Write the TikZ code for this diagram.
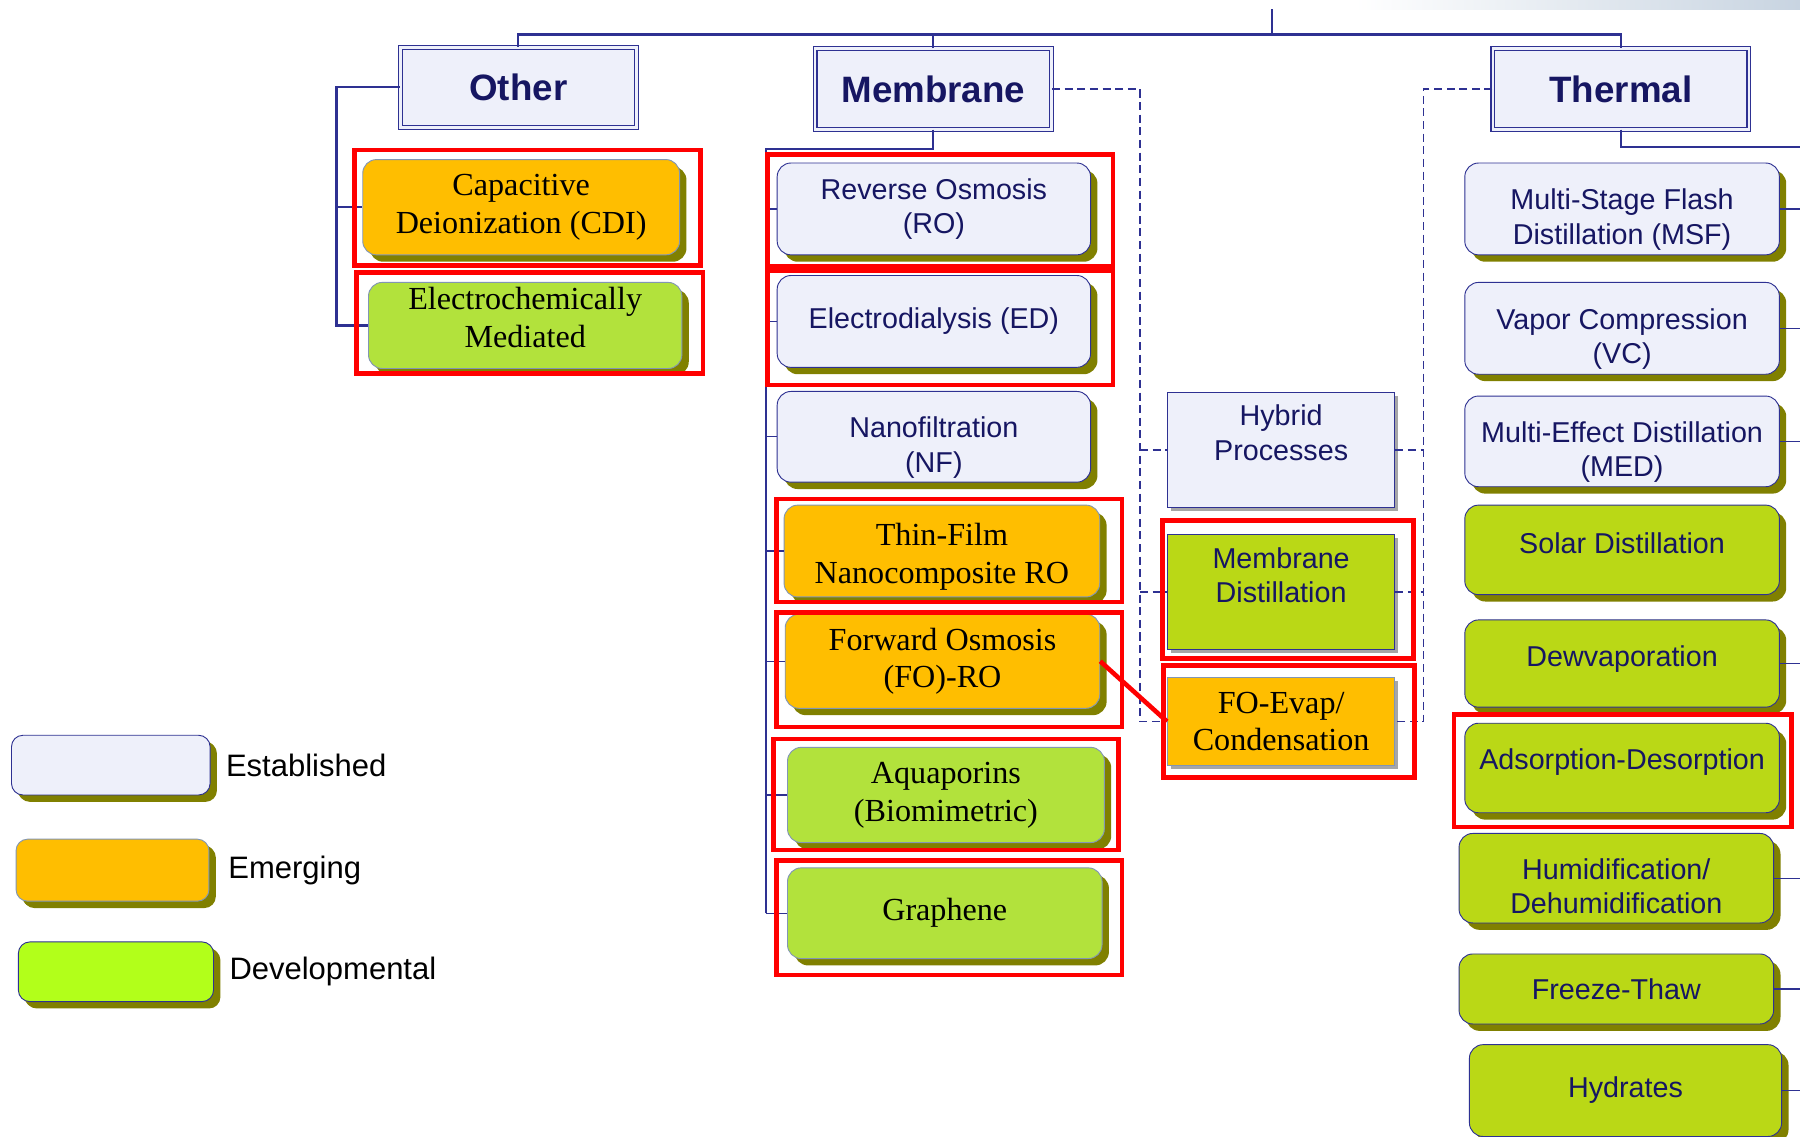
\documentclass[tikz,border=0pt]{standalone}
\usepackage{fontspec}
\setmainfont{Liberation Serif}
\setsansfont{Liberation Sans}
\usepackage{tikz}
\usetikzlibrary{calc,positioning,shadows}
\definecolor{navyline}{RGB}{ 46, 49, 146 }
\definecolor{navytext}{RGB}{ 22, 22, 98 }
\definecolor{estfill}{RGB}{ 238, 240, 250 }
\definecolor{emfill}{RGB}{ 255, 190, 0 }
\definecolor{devfill}{RGB}{ 178, 226, 60 }
\definecolor{thfill}{RGB}{ 186, 216, 22 }
\definecolor{legfill}{RGB}{ 178, 255, 26 }
\definecolor{shadowol}{RGB}{ 128, 128, 0 }
\definecolor{greyedge}{RGB}{ 130, 150, 180 }
\definecolor{hired}{RGB}{ 255, 0, 0 }
\definecolor{fadeblue}{RGB}{ 200, 212, 225 }

\begin{document}
\begin{tikzpicture}[x=1pt,y=-1pt]
\tikzstyle{sans text}=[font=\sffamily\fontsize{25}{30}\selectfont,text=navytext,align=center]
\tikzstyle{serif text}=[font=\rmfamily\fontsize{28}{33}\selectfont,text=black,align=center]
\tikzstyle{head node}=[draw=navyline,double=estfill,double distance=2.5pt,line width=0.9pt,fill=estfill,minimum width=206pt,minimum height=70pt,font=\sffamily\bfseries\fontsize{32}{36}\selectfont,text=navytext]
\tikzstyle{box}=[rounded corners=12pt,minimum width=274pt,minimum height=80pt,inner sep=2pt,line width=0.8pt,drop shadow={shadow xshift=6pt,shadow yshift=-6pt,fill=shadowol,opacity=1}]
\tikzstyle{est}=[box,draw=navyline,fill=estfill,sans text]
\tikzstyle{emg}=[box,draw=greyedge,fill=emfill,serif text]
\tikzstyle{dev}=[box,draw=greyedge,fill=devfill,serif text]
\tikzstyle{thm}=[box,draw=navyline,fill=thfill,sans text]
\tikzstyle{flat}=[minimum width=198pt,line width=0.8pt,drop shadow={shadow xshift=3pt,shadow yshift=-3pt,fill=black!35,opacity=1}]
\tikzstyle{leg}=[box,minimum width=170pt,minimum height=52pt,rounded corners=10pt,drop shadow={shadow xshift=5pt,shadow yshift=-5pt,fill=shadowol,opacity=1}]
\tikzstyle{legtext}=[font=\sffamily\fontsize{27}{30}\selectfont,text=black]
\tikzstyle{conn}=[draw=navyline,line width=2pt]
\tikzstyle{stub}=[draw=navyline,line width=1.1pt]
\tikzstyle{dconn}=[draw=navyline,line width=1.5pt,dash pattern=on 7pt off 4pt]
\tikzstyle{hibox}=[draw=hired,line width=4pt]

\useasboundingbox (0,0) rectangle (1568,990);
\fill[white] (0,0) rectangle (1568,990);
\shade[left color=white,right color=fadeblue] (1180,0) rectangle (1568,8);

% group headings
\node(O)[head node] at (451.5,76) {Other};
\node(M)[head node] at (813,77.5) {Membrane};
\node(T)[head node,minimum width=223pt] at (1412,77.5) {Thermal};

% other
\node(o1)[emg,minimum width=276pt,minimum height=83pt] at (454,180.5) {Capacitive\\Deionization (CDI)};
\node(o2)[dev,minimum width=273pt,minimum height=75pt] at (457.5,283.5) {Electrochemically\\Mediated\rule[-14pt]{0pt}{14pt}};

% membrane
\node(m1)[est,minimum width=273pt] at (813.5,182) {Reverse Osmosis\\(RO)};
\node(m2)[est,minimum width=273pt] at (813.5,280) {Electrodialysis (ED)};
\node(m3)[est,minimum width=273pt,minimum height=79pt] at (813.5,380.5) {\rule{0pt}{37pt}Nanofiltration\\(NF)};
\node(m4)[emg,minimum width=275pt] at (820.5,480) {\rule{0pt}{29pt}Thin-Film\\Nanocomposite RO};
\node(m5)[emg,minimum height=82pt] at (821,576) {Forward Osmosis\\(FO)-RO};
\node(m6)[dev,minimum width=276pt,minimum height=83pt] at (824,692.5) {Aquaporins\\(Biomimetric)};
\node(m7)[dev,minimum height=79pt] at (823,795.5) {Graphene};

% hybrid
\node(h1)[flat,draw=navyline,fill=estfill,sans text,minimum height=100pt,drop shadow={opacity=0}] at (1116,392) {Hybrid\\Processes\\\mbox{}};
\node(h2)[flat,draw=navyline,fill=thfill,sans text,minimum height=100pt] at (1116,516) {Membrane\\Distillation\\\mbox{}};
\node(h3)[flat,draw=greyedge,fill=emfill,serif text,minimum height=77pt] at (1116,628.5) {FO-Evap/\\Condensation};

% thermal
\node(t1)[est] at (1413,182) {\rule{0pt}{37pt}Multi-Stage Flash\\Distillation (MSF)};
\node(t2)[est] at (1413,286) {\rule{0pt}{37pt}Vapor Compression\\(VC)};
\node(t3)[est,minimum height=79pt] at (1413,384.5) {\rule{0pt}{37pt}Multi-Effect Distillation\\(MED)};
\node(t4)[thm,minimum height=78pt] at (1413,479) {Solar Distillation\rule[-12pt]{0pt}{12pt}};
\node(t5)[thm,minimum height=76pt] at (1413,578) {Dewvaporation\rule[-13pt]{0pt}{13pt}};
\node(t6)[thm,minimum height=78pt] at (1413,669) {Adsorption-Desorption\rule[-15pt]{0pt}{15pt}};
\node(t7)[thm,minimum height=78pt] at (1408,765) {\rule{0pt}{32pt}Humidification/\\Dehumidification};
\node(t8)[thm,minimum height=61pt] at (1408,861.5) {Freeze-Thaw};
\node(t9)[thm,minimum width=272pt,minimum height=80pt] at (1416,950) {Hydrates};

% legend
\node(l1)[leg,draw=navyline,fill=estfill,minimum width=173pt] at (96.5,666.5) {};
\node(l2)[leg,draw=greyedge,fill=emfill,minimum width=168pt,minimum height=54pt] at (98,758) {};
\node(l3)[leg,draw=navyline,fill=legfill] at (101,846.5) {};
\node(e1)[legtext,right=10pt of l1] {Established};
\node(e2)[legtext,right=13pt of l2] {Emerging};
\node(e3)[legtext,right=10pt of l3] {Developmental};

% tree lines
\coordinate(bar) at (0,30);
\coordinate(top) at (1108,8);
\draw[conn] (O.north) -- (O.north |- bar) -- (T.north |- bar) -- (T.north);
\draw[conn] (M.north) -- (M.north |- bar);
\draw[conn] (top) -- (top |- bar);

\coordinate(ob) at (293,76);
\draw[conn] (O.west) -- (ob |- O.west) |- (o2.west);
\draw[conn] (ob |- o1.west) -- (o1.west);

\coordinate(mb) at (667,130);
\draw[conn] (M.south) |- (mb) -- (mb |- m7.west);
\foreach \n in {1,...,7} \draw[stub] (mb |- m\n.west) -- (m\n.west);

\coordinate(tb) at (1568,128);
\draw[conn] (T.south) |- (tb);
\foreach \n in {1,2,3,5,7,8,9} \draw[stub] (t\n.east) -- (t\n.east -| tb);

% hybrid links
\coordinate(dl) at (993,0);
\coordinate(dr) at (1240,0);
\draw[dconn] (M.east) -| (dl |- h3.west) -- (h3.west);
\draw[dconn] (dl |- h1.west) -- (h1.west);
\draw[dconn] (dl |- h2.west) -- (h2.west);
\draw[dconn] (T.west) -| (dr |- h3.east) -- (h3.east);
\draw[dconn] (h1.east) -- (dr |- h1.east);
\draw[dconn] (h2.east) -- (dr |- h2.east);

% highlights
\draw[hibox] ($(o1.north west)+(-7,-8)$) rectangle ($(o1.south east)+(18,9)$);
\draw[hibox] ($(o2.north west)+(-10,-8)$) rectangle ($(o2.south east)+(18,4)$);
\draw[hibox] ($(m1.north west)+(-8,-7)$) rectangle ($(m1.south east)+(19,10)$);
\draw[hibox] ($(m2.north west)+(-8,-4)$) rectangle ($(m2.south east)+(19,15)$);
\draw[hibox] ($(m4.north west)+(-6,-5)$) rectangle ($(m4.south east)+(19,4)$);
\draw[hibox] ($(m5.north west)+(-7,-1)$) rectangle ($(m5.south east)+(19,16)$);
\draw[hibox] ($(m6.north west)+(-12,-7)$) rectangle ($(m6.south east)+(12,6)$);
\draw[hibox] ($(m7.north west)+(-9,-6)$) rectangle ($(m7.south east)+(17,14)$);
\draw[hibox] ($(h2.north west)+(-4,-12)$) rectangle ($(h2.south east)+(16,7)$);
\draw[hibox] ($(h3.north west)+(-3,-10)$) rectangle ($(h3.south east)+(17,10)$);
\draw[hibox] ($(t6.north west)+(-9,-7)$) rectangle ($(t6.south east)+(10,12)$);
\draw[hired,line width=4pt] (m5.east) -- (h3.west);

\end{tikzpicture}
\end{document}
